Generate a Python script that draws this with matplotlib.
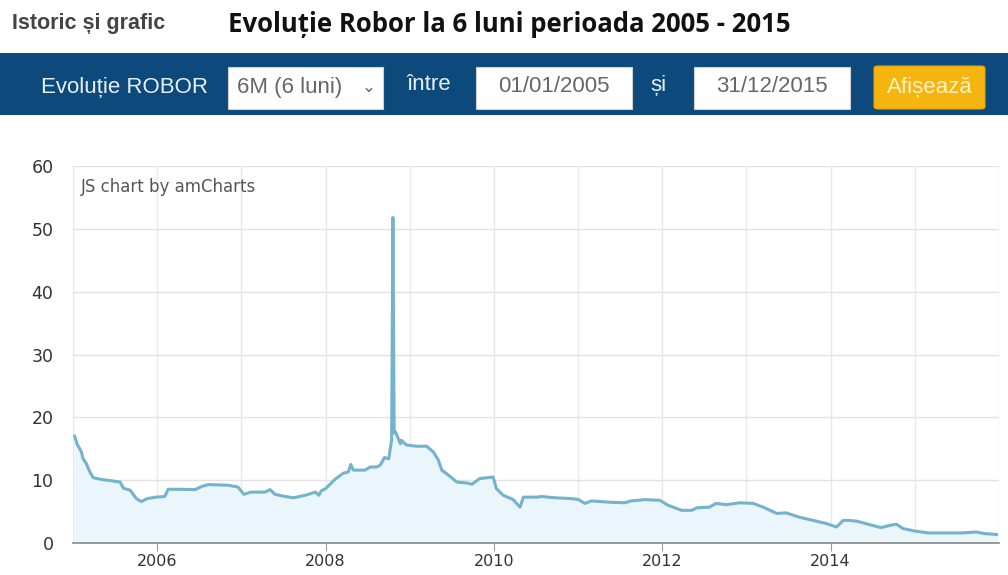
import matplotlib
matplotlib.use("Agg")
import matplotlib.pyplot as plt
from matplotlib.patches import Rectangle, FancyBboxPatch

# ---------------- DATA ---------------- #

years = [2005.02, 2005.05, 2005.10, 2005.12, 2005.16, 2005.20, 2005.24, 2005.34,
         2005.46, 2005.56, 2005.60, 2005.68, 2005.75, 2005.81, 2005.89, 2005.99,
         2006.09, 2006.13, 2006.25, 2006.45, 2006.53, 2006.61, 2006.84, 2006.96,
         2007.03, 2007.11, 2007.20, 2007.28, 2007.34, 2007.40, 2007.52, 2007.62,
         2007.76, 2007.88, 2007.92, 2007.95, 2008.00, 2008.11, 2008.21, 2008.27,
         2008.30, 2008.33, 2008.47, 2008.53, 2008.61, 2008.65, 2008.70, 2008.75,
         2008.785, 2008.80, 2008.815, 2008.83, 2008.89, 2008.90, 2008.96, 2009.08,
         2009.20, 2009.28, 2009.34, 2009.38, 2009.46, 2009.56, 2009.68, 2009.74,
         2009.83, 2009.99, 2010.03, 2010.11, 2010.23, 2010.31, 2010.35, 2010.51,
         2010.57, 2010.72, 2010.88, 2011.00, 2011.08, 2011.16, 2011.36, 2011.55,
         2011.63, 2011.79, 2011.97, 2012.07, 2012.23, 2012.35, 2012.41, 2012.56,
         2012.64, 2012.76, 2012.92, 2013.08, 2013.20, 2013.36, 2013.47, 2013.63,
         2013.79, 2013.95, 2014.07, 2014.15, 2014.22, 2014.32, 2014.44, 2014.60,
         2014.70, 2014.78, 2014.86, 2015.00, 2015.16, 2015.35, 2015.55, 2015.73,
         2015.83, 2015.97]

robor = [17.0, 15.7, 14.5, 13.4, 12.6, 11.3, 10.4, 10.1,
         9.9, 9.7, 8.7, 8.4, 7.1, 6.6, 7.1, 7.3,
         7.4, 8.55, 8.55, 8.5, 9.0, 9.3, 9.2, 8.9,
         7.75, 8.1, 8.1, 8.1, 8.5, 7.75, 7.4, 7.2,
         7.6, 8.1, 7.6, 8.3, 8.65, 10.1, 11.1, 11.3,
         12.5, 11.6, 11.6, 12.1, 12.1, 12.4, 13.6, 13.4,
         16.4, 51.8, 17.5, 17.7, 15.8, 16.35, 15.6, 15.4,
         15.4, 14.5, 13.2, 11.6, 10.8, 9.7, 9.55, 9.35,
         10.25, 10.5, 8.65, 7.6, 6.9, 5.7, 7.3, 7.3,
         7.4, 7.2, 7.1, 6.95, 6.3, 6.7, 6.5, 6.4,
         6.7, 6.9, 6.8, 6.0, 5.2, 5.2, 5.6, 5.7,
         6.3, 6.1, 6.4, 6.3, 5.7, 4.7, 4.8, 4.1,
         3.6, 3.1, 2.55, 3.6, 3.6, 3.45, 3.0, 2.45,
         2.8, 3.0, 2.3, 1.9, 1.6, 1.6, 1.6, 1.75,
         1.5, 1.35]

tick_years = [2006, 2008, 2010, 2012, 2014]
y_ticks = [0, 10, 20, 30, 40, 50, 60]

W, H = 1008, 575


def fx(x):
    return x / W


def fy(y):
    return 1 - y / H


plt.rcParams['font.family'] = ['Liberation Sans', 'DejaVu Sans']

fig = plt.figure(figsize=(W / 100, H / 100), dpi=100)
fig.patch.set_facecolor('white')

# ---------------- HEADER ---------------- #

fig.text(fx(12), fy(23), "Istoric și grafic", fontsize=15.5, fontweight='bold',
         color='#444444', va='center', ha='left')
fig.text(fx(228), fy(25), "Evoluție Robor la 6 luni perioada 2005 - 2015",
         fontsize=18.5, fontweight='bold', color='#111111', va='center', ha='left',
         family=['Open Sans', 'DejaVu Sans'])

# blue filter bar
fig.patches.append(Rectangle((0, fy(115)), 1, fy(53) - fy(115), transform=fig.transFigure,
                             facecolor='#0d4a7b', edgecolor='none', zorder=0))


def box(x0, x1, y0, y1, color):
    fig.patches.append(Rectangle((fx(x0), fy(y1)), fx(x1) - fx(x0), fy(y0) - fy(y1),
                                 transform=fig.transFigure, facecolor=color,
                                 edgecolor='#cfcfcf', linewidth=0.8, zorder=1))


bar_y = 87
fs = 16
fig.text(fx(41), fy(bar_y), "Evoluție ROBOR", fontsize=fs, color='#e6f0f8', va='center')
box(228, 383, 67, 109, 'white')
fig.text(fx(237), fy(bar_y), "6M (6 luni)", fontsize=fs, color='#666666', va='center')
fig.text(fx(369), fy(bar_y), "⌄", fontsize=12, color='#666666', va='center', ha='center',
         family=['DejaVu Sans'])
fig.text(fx(406), fy(bar_y - 2), "între", fontsize=fs, color='#e6f0f8', va='center')
box(476, 632, 67, 109, 'white')
fig.text(fx(554), fy(bar_y), "01/01/2005", fontsize=fs, color='#666666', va='center', ha='center')
fig.text(fx(658), fy(bar_y - 2), "și", fontsize=fs, color='#e6f0f8', va='center', ha='center')
box(694, 850, 67, 109, 'white')
fig.text(fx(772), fy(bar_y), "31/12/2015", fontsize=fs, color='#666666', va='center', ha='center')
fig.patches.append(FancyBboxPatch((fx(874), fy(109)), fx(985) - fx(874), fy(66) - fy(109),
                                  boxstyle="round,pad=0,rounding_size=0.004",
                                  transform=fig.transFigure, facecolor='#f6b50e',
                                  edgecolor='#e0a400', linewidth=0.8, zorder=1))
fig.text(fx(929.5), fy(bar_y), "Afișează", fontsize=fs, color='#fff3c8', va='center', ha='center')

# ---------------- CHART ---------------- #

ax = fig.add_axes([fx(73), fy(543), fx(999) - fx(73), fy(166) - fy(543)])
ax.fill_between(years, robor, 0, color='#eaf5fc', zorder=1)
ax.plot(years, robor, color='#74b3cb', linewidth=2.2, zorder=3)

ax.set_xlim(2005.0, 2016.0)
ax.set_ylim(0, 60)
ax.set_yticks(y_ticks)
ax.set_xticks(tick_years)
ax.set_xticks(range(2005, 2017), minor=True)
ax.grid(True, which='both', axis='x', color='#e8e8e8', linewidth=1, zorder=0)
ax.grid(True, which='major', axis='y', color='#e3e3e3', linewidth=1, zorder=0)
ax.set_axisbelow(True)

for side in ['top', 'right', 'left']:
    ax.spines[side].set_visible(False)
ax.spines['bottom'].set_color('#888888')
ax.spines['bottom'].set_linewidth(1.2)

ax.tick_params(axis='y', length=0, pad=14, labelsize=12.5, labelcolor='#333333')
ax.tick_params(axis='x', which='major', length=6, color='#999999', pad=2,
               labelsize=11.5, labelcolor='#333333')
ax.tick_params(axis='x', which='minor', length=0)
for lab in ax.get_xticklabels() + ax.get_yticklabels():
    lab.set_family(['DejaVu Sans'])

ax.text(0.008, 0.944, "JS chart by amCharts", transform=ax.transAxes, fontsize=12,
        color='#555555', va='center', ha='left', family=['DejaVu Sans'])

fig.savefig("out.png", dpi=100, facecolor='white')
